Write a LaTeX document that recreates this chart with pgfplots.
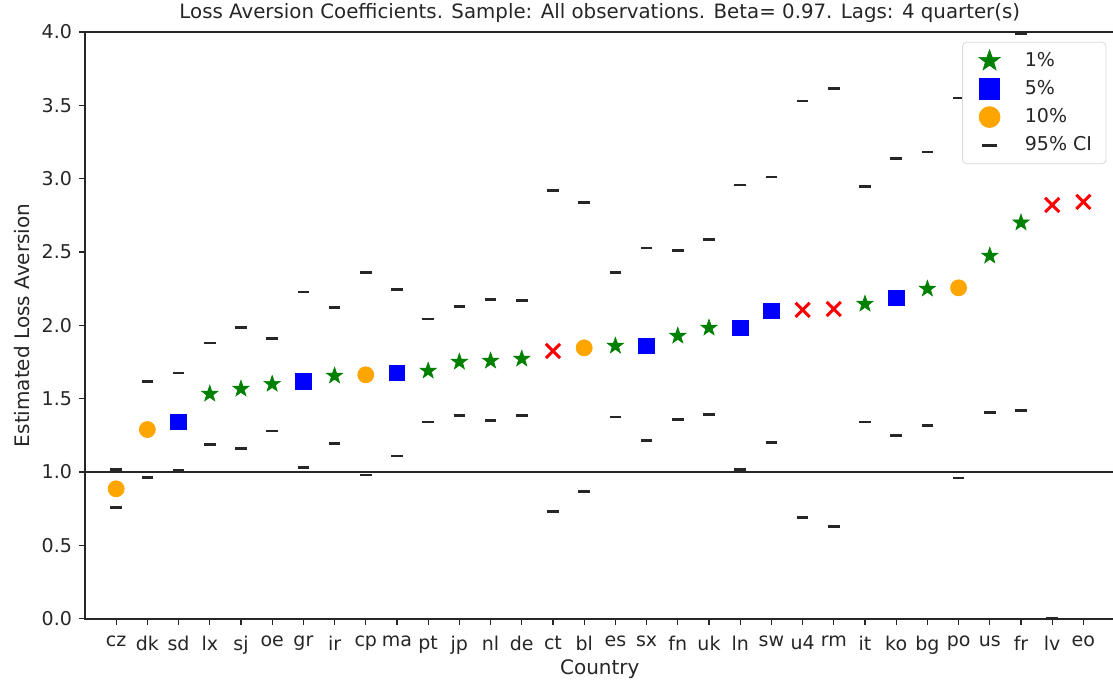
\documentclass[border=0pt]{standalone}
\usepackage{fontspec}
\setmainfont{DejaVu Sans}
\usepackage{pgfplots}
\pgfplotsset{compat=1.18}
\usetikzlibrary{calc}

\definecolor{spine}{HTML}{262626}
\definecolor{mgreen}{RGB}{0,128,0}
\definecolor{morange}{RGB}{255,165,0}

% filled five-point star, like matplotlib's '*'
\pgfdeclareplotmark{fstar}{%
  \pgfpathmoveto{\pgfpointpolar{90}{\pgfplotmarksize}}%
  \pgfpathlineto{\pgfpointpolar{126}{0.40\pgfplotmarksize}}%
  \pgfpathlineto{\pgfpointpolar{162}{\pgfplotmarksize}}%
  \pgfpathlineto{\pgfpointpolar{198}{0.40\pgfplotmarksize}}%
  \pgfpathlineto{\pgfpointpolar{234}{\pgfplotmarksize}}%
  \pgfpathlineto{\pgfpointpolar{270}{0.40\pgfplotmarksize}}%
  \pgfpathlineto{\pgfpointpolar{306}{\pgfplotmarksize}}%
  \pgfpathlineto{\pgfpointpolar{342}{0.40\pgfplotmarksize}}%
  \pgfpathlineto{\pgfpointpolar{18}{\pgfplotmarksize}}%
  \pgfpathlineto{\pgfpointpolar{54}{0.40\pgfplotmarksize}}%
  \pgfpathclose
  \pgfusepathqfillstroke
}

\begin{document}
\begin{tikzpicture}
\begin{axis}[
    name=ax,
    scale only axis,
    width=515pt, height=293.5pt,
    xmin=-1, xmax=32,
    ymin=0, ymax=4,
    xtick={0,...,31},
    xticklabels={cz,dk,sd,lx,sj,oe,gr,ir,cp,ma,pt,jp,nl,de,ct,bl,es,sx,fn,uk,ln,sw,u4,rm,it,ko,bg,po,us,fr,lv,eo},
    ytick={0,0.5,...,4},
    yticklabel style={/pgf/number format/.cd, fixed, fixed zerofill, precision=1},
    /pgf/number format/assume math mode=true,
    tick align=outside,
    xtick pos=bottom, ytick pos=left,
    major tick length=3pt,
    tick style={spine, line width=0.6pt},
    axis line style={spine, line width=0.8pt},
    ticklabel style={font=\fontsize{9.5}{11}\selectfont, text=spine},
    xticklabel style={yshift=-2pt},
    title={Loss Aversion Coefficients. Sample: All observations. Beta= 0.97. Lags: 4 quarter(s)},
    title style={font=\fontsize{9.9}{11}\selectfont, text=spine, yshift=-5pt},
    xlabel={Country},
    ylabel={Estimated Loss Aversion},
    label style={font=\fontsize{10}{12}\selectfont, text=spine},
    xlabel style={yshift=4pt},
    ylabel style={yshift=-1pt},
    clip=false,
    legend style={at={(0.992,0.983)}, anchor=north east,
        draw=black!15, rounded corners=2pt, fill=white,
        font=\fontsize{9.5}{11}\selectfont, text=spine,
        inner xsep=5pt, inner ysep=3pt, row sep=1.5pt},
    legend cell align=left,
    legend image code/.code={%
        \path[draw=none, fill=none] (0cm,0cm) -- (0.85cm,0cm);
        \draw[only marks, every mark/.append style={scale=1.3}] plot coordinates {(0.3cm,0cm)};},
]
% reference line at 1
\draw[spine, line width=1.1pt] (axis cs:-1,1) -- (axis cs:32,1);

% 1% significant
\addplot[only marks, mark=fstar, mark size=4.3pt, mgreen, fill=mgreen, line width=0.3pt] coordinates {
 (3,1.533) (4,1.567) (5,1.600) (7,1.656) (10,1.690) (11,1.751) (12,1.758) (13,1.772)
 (16,1.860) (18,1.928) (19,1.983) (24,2.146) (26,2.249) (28,2.474) (29,2.700)};
\addlegendentry{1\%}
% 5% significant
\addplot[only marks, mark=square*, mark size=3.9pt, blue, fill=blue] coordinates {
 (2,1.343) (6,1.620) (9,1.676) (17,1.860) (20,1.983) (21,2.099) (25,2.187)};
\addlegendentry{5\%}
% 10% significant
\addplot[only marks, mark=*, mark size=4pt, morange, fill=morange] coordinates {
 (0,0.886) (1,1.290) (8,1.663) (15,1.847) (27,2.256)};
\addlegendentry{10\%}
% 95% CI bounds
\addplot[only marks, mark=-, mark size=2.9pt, spine, line width=1.4pt] coordinates {
 (0,1.020) (1,1.620) (2,1.676) (3,1.880) (4,1.983) (5,1.908) (6,2.228) (7,2.120)
 (8,2.358) (9,2.242) (10,2.044) (11,2.126) (12,2.174) (13,2.167) (14,2.917) (15,2.835)
 (16,2.358) (17,2.528) (18,2.508) (19,2.583) (20,2.957) (21,3.012) (22,3.530) (23,3.612)
 (24,2.944) (25,3.135) (26,3.182) (27,3.550) (29,3.990)};
\addlegendentry{95\% CI}
\addplot[only marks, mark=-, mark size=2.9pt, spine, line width=1.4pt, forget plot] coordinates {
 (0,0.756) (1,0.965) (2,1.008) (3,1.190) (4,1.158) (5,1.280) (6,1.030) (7,1.197)
 (8,0.980) (9,1.110) (10,1.342) (11,1.383) (12,1.349) (13,1.383) (14,0.729) (15,0.865)
 (16,1.376) (17,1.213) (18,1.356) (19,1.390) (20,1.015) (21,1.200) (22,0.688) (23,0.627)
 (24,1.342) (25,1.247) (26,1.315) (27,0.960) (28,1.404) (29,1.417) (30,0.005)};
% not significant
\addplot[only marks, mark=x, mark size=5pt, red, line width=1.5pt, forget plot] coordinates {
 (14,1.826) (22,2.106) (23,2.112) (30,2.821) (31,2.842)};
\end{axis}
\pgfresetboundingbox
\path ($(ax.south west)+(-42.5pt,-32pt)$) rectangle ($(ax.north east)+(-0.8pt,16pt)$);
\end{tikzpicture}
\end{document}
